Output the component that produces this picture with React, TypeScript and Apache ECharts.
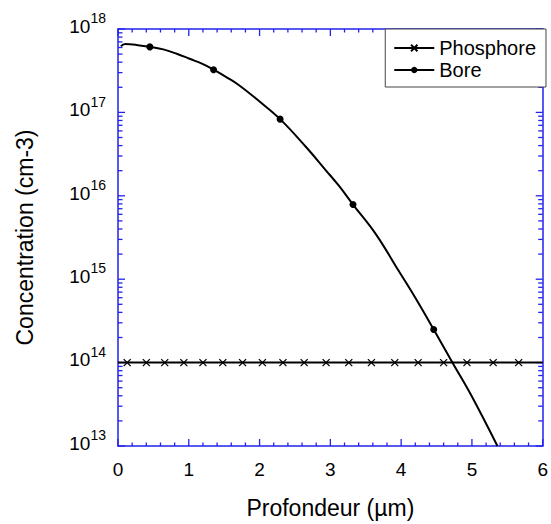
import React, { useEffect, useRef } from "react";
import * as echarts from "echarts";

// ---- data ----
const xTickLabels = ["0", "1", "2", "3", "4", "5", "6"];
const yDecades = [13, 14, 15, 16, 17, 18];
const xMinorPerUnit = 5; // minor divisions between x labels
const yMinorMultipliers = [2, 3, 4, 5, 6, 7, 8, 9];

// Bore: points along the curve (µm, cm-3)
const boreCurveDepth = [0.04, 0.1, 0.26, 0.64, 0.83, 1.01, 1.2, 1.53, 1.71, 2.0, 2.65, 2.93, 3.12, 3.64, 3.96, 4.2, 4.74, 4.99, 5.36];
const boreCurveConc = [6.2e17, 6.6e17, 6.45e17, 5.7e17, 5.05e17, 4.4e17, 3.8e17, 2.65e17, 2.12e17, 1.35e17, 3.9e16, 2.05e16, 1.32e16, 3.5e15, 1.28e15, 6.0e14, 9.5e13, 4.05e13, 1.0e13];
// Bore: marked points
const boreMarkerDepth = [0.45, 1.35, 2.29, 3.32, 4.46];
const boreMarkerConc = [6.1e17, 3.25e17, 8.3e16, 7.85e15, 2.5e14];

// Phosphore: line ends and marked points
const phosphoreLineDepth = [0, 6];
const phosphoreLineConc = [1e14, 1e14];
const phosphoreMarkerDepth = [0.13, 0.4, 0.66, 0.93, 1.2, 1.48, 1.76, 2.04, 2.33, 2.63, 2.94, 3.26, 3.58, 3.91, 4.24, 4.6, 4.93, 5.3, 5.66];
const phosphoreMarkerConc = [1e14, 1e14, 1e14, 1e14, 1e14, 1e14, 1e14, 1e14, 1e14, 1e14, 1e14, 1e14, 1e14, 1e14, 1e14, 1e14, 1e14, 1e14, 1e14];

const FONT = "'Liberation Sans', Arial, Helvetica, sans-serif";
const BLUE = "#2222ee";

const X_MIN = 0;
const X_MAX = xTickLabels.length - 1;
const Y_MIN = Math.pow(10, yDecades[0]);
const Y_MAX = Math.pow(10, yDecades[yDecades.length - 1]);

function merge(lineX: number[], lineY: number[], markX: number[], markY: number[]) {
  const pts: any[] = [];
  lineX.forEach((x, i) => pts.push({ value: [x, lineY[i]], symbol: "none" }));
  markX.forEach((x, i) => pts.push({ value: [x, markY[i]] }));
  pts.sort((a, b) => a.value[0] - b.value[0]);
  return pts;
}

// tick items: [x, y, kind]  kind: 0 x-major, 1 x-minor, 2 y-major, 3 y-minor
function buildTicks() {
  const t: number[][] = [];
  for (let i = X_MIN; i <= X_MAX; i++) {
    t.push([i, Y_MIN, 0]);
    if (i < X_MAX) for (let k = 1; k < xMinorPerUnit; k++) t.push([i + k / xMinorPerUnit, Y_MIN, 1]);
  }
  yDecades.forEach((d, idx) => {
    t.push([X_MIN, Math.pow(10, d), 2]);
    if (idx < yDecades.length - 1) yMinorMultipliers.forEach((m) => t.push([X_MIN, m * Math.pow(10, d), 3]));
  });
  return t;
}

export default function App() {
  const ref = useRef<HTMLDivElement>(null);
  useEffect(() => {
    if (!ref.current) return;
    const chart = echarts.init(ref.current, undefined, { renderer: "svg" });
    const line = { show: true, onZero: false, lineStyle: { color: BLUE, width: 1.5 } };
    const tickStyle = { stroke: BLUE, lineWidth: 1.3, fill: null };
    const option: any = {
      animation: false,
      backgroundColor: "#ffffff",
      grid: { left: 118, right: 5.5, top: 29, bottom: 69, containLabel: false },
      legend: {
        orient: "vertical",
        right: 5,
        top: 29,
        z: 20,
        padding: [9, 10, 7, 8],
        itemGap: 2,
        itemWidth: 40,
        itemHeight: 8,
        backgroundColor: "#ffffff",
        borderColor: "#444444",
        borderWidth: 1,
        textStyle: { fontFamily: FONT, fontSize: 20, color: "#000" },
        data: ["Phosphore", "Bore"],
      },
      xAxis: [
        {
          type: "value",
          min: X_MIN,
          max: X_MAX,
          interval: 1,
          position: "bottom",
          axisLine: line,
          splitLine: { show: false },
          axisTick: { show: false },
          name: "Profondeur (µm)",
          nameLocation: "middle",
          nameGap: 50,
          nameTextStyle: { fontFamily: FONT, fontSize: 23, color: "#000" },
          axisLabel: {
            show: true,
            margin: 14,
            fontFamily: FONT,
            fontSize: 19,
            color: "#000",
            formatter: (v: number) => xTickLabels[Math.round(v)] ?? "",
          },
        },
        {
          type: "value",
          min: X_MIN,
          max: X_MAX,
          interval: 1,
          position: "top",
          axisLine: line,
          splitLine: { show: false },
          axisTick: { show: false },
          axisLabel: { show: false },
        },
      ],
      yAxis: [
        {
          type: "log",
          logBase: 10,
          min: Y_MIN,
          max: Y_MAX,
          position: "left",
          axisLine: line,
          splitLine: { show: false },
          axisTick: { show: false },
          name: "Concentration (cm-3)",
          nameLocation: "middle",
          nameGap: 82,
          nameTextStyle: { fontFamily: FONT, fontSize: 23, color: "#000" },
          axisLabel: {
            show: true,
            margin: 12,
            color: "#000",
            formatter: (v: number) => `{b|10}{s|${Math.round(Math.log10(v))}}`,
            rich: {
              b: { fontFamily: FONT, fontSize: 19, lineHeight: 19, color: "#000", padding: [5.5, 0, 11, 0] },
              s: { fontFamily: FONT, fontSize: 14, lineHeight: 14, color: "#000", padding: [0, 0, 21.5, 0] },
            },
          },
        },
        {
          type: "log",
          logBase: 10,
          min: Y_MIN,
          max: Y_MAX,
          position: "right",
          axisLine: line,
          splitLine: { show: false },
          axisTick: { show: false },
          axisLabel: { show: false },
        },
      ],
      series: [
        {
          name: "ticks",
          type: "custom",
          coordinateSystem: "cartesian2d",
          xAxisIndex: 0,
          yAxisIndex: 0,
          clip: false,
          silent: true,
          z: 1,
          encode: { x: 0, y: 1 },
          dimensions: ["x", "y", "kind"],
          data: buildTicks(),
          renderItem: (params: any, api: any) => {
            const x = api.value(0);
            const y = api.value(1);
            const kind = api.value(2);
            if (kind === 0 || kind === 1) {
              const len = kind === 0 ? 7 : 3.5;
              const b = api.coord([x, Y_MIN]);
              const t = api.coord([x, Y_MAX]);
              return {
                type: "group",
                children: [
                  { type: "line", shape: { x1: b[0], y1: b[1], x2: b[0], y2: b[1] - len }, style: tickStyle },
                  { type: "line", shape: { x1: t[0], y1: t[1], x2: t[0], y2: t[1] + len }, style: tickStyle },
                ],
              };
            }
            const len = kind === 2 ? 7 : 4.5;
            const l = api.coord([X_MIN, y]);
            const r = api.coord([X_MAX, y]);
            return {
              type: "group",
              children: [
                { type: "line", shape: { x1: l[0], y1: l[1], x2: l[0] + len, y2: l[1] }, style: tickStyle },
                { type: "line", shape: { x1: r[0], y1: r[1], x2: r[0] - len, y2: r[1] }, style: tickStyle },
              ],
            };
          },
        },
        {
          name: "Phosphore",
          type: "line",
          xAxisIndex: 0,
          yAxisIndex: 0,
          data: merge(phosphoreLineDepth, phosphoreLineConc, phosphoreMarkerDepth, phosphoreMarkerConc),
          symbol: "path://M0,0L10,10M10,0L0,10",
          symbolSize: 7,
          showAllSymbol: true,
          lineStyle: { color: "#000", width: 2 },
          itemStyle: { color: "#000", borderColor: "#000", borderWidth: 1.3 },
          clip: true,
          z: 3,
        },
        {
          name: "Bore",
          type: "line",
          xAxisIndex: 0,
          yAxisIndex: 0,
          smooth: 0.4,
          data: merge(boreCurveDepth, boreCurveConc, boreMarkerDepth, boreMarkerConc),
          symbol: "circle",
          symbolSize: 7,
          showAllSymbol: true,
          lineStyle: { color: "#000", width: 2 },
          itemStyle: { color: "#000", borderColor: "#000", borderWidth: 0 },
          clip: true,
          z: 3,
        },
      ],
    };
    chart.setOption(option);
    return () => chart.dispose();
  }, []);
  return <div ref={ref} style={{ position: "fixed", left: 0, top: 0, width: 551, height: 524 }} />;
}
